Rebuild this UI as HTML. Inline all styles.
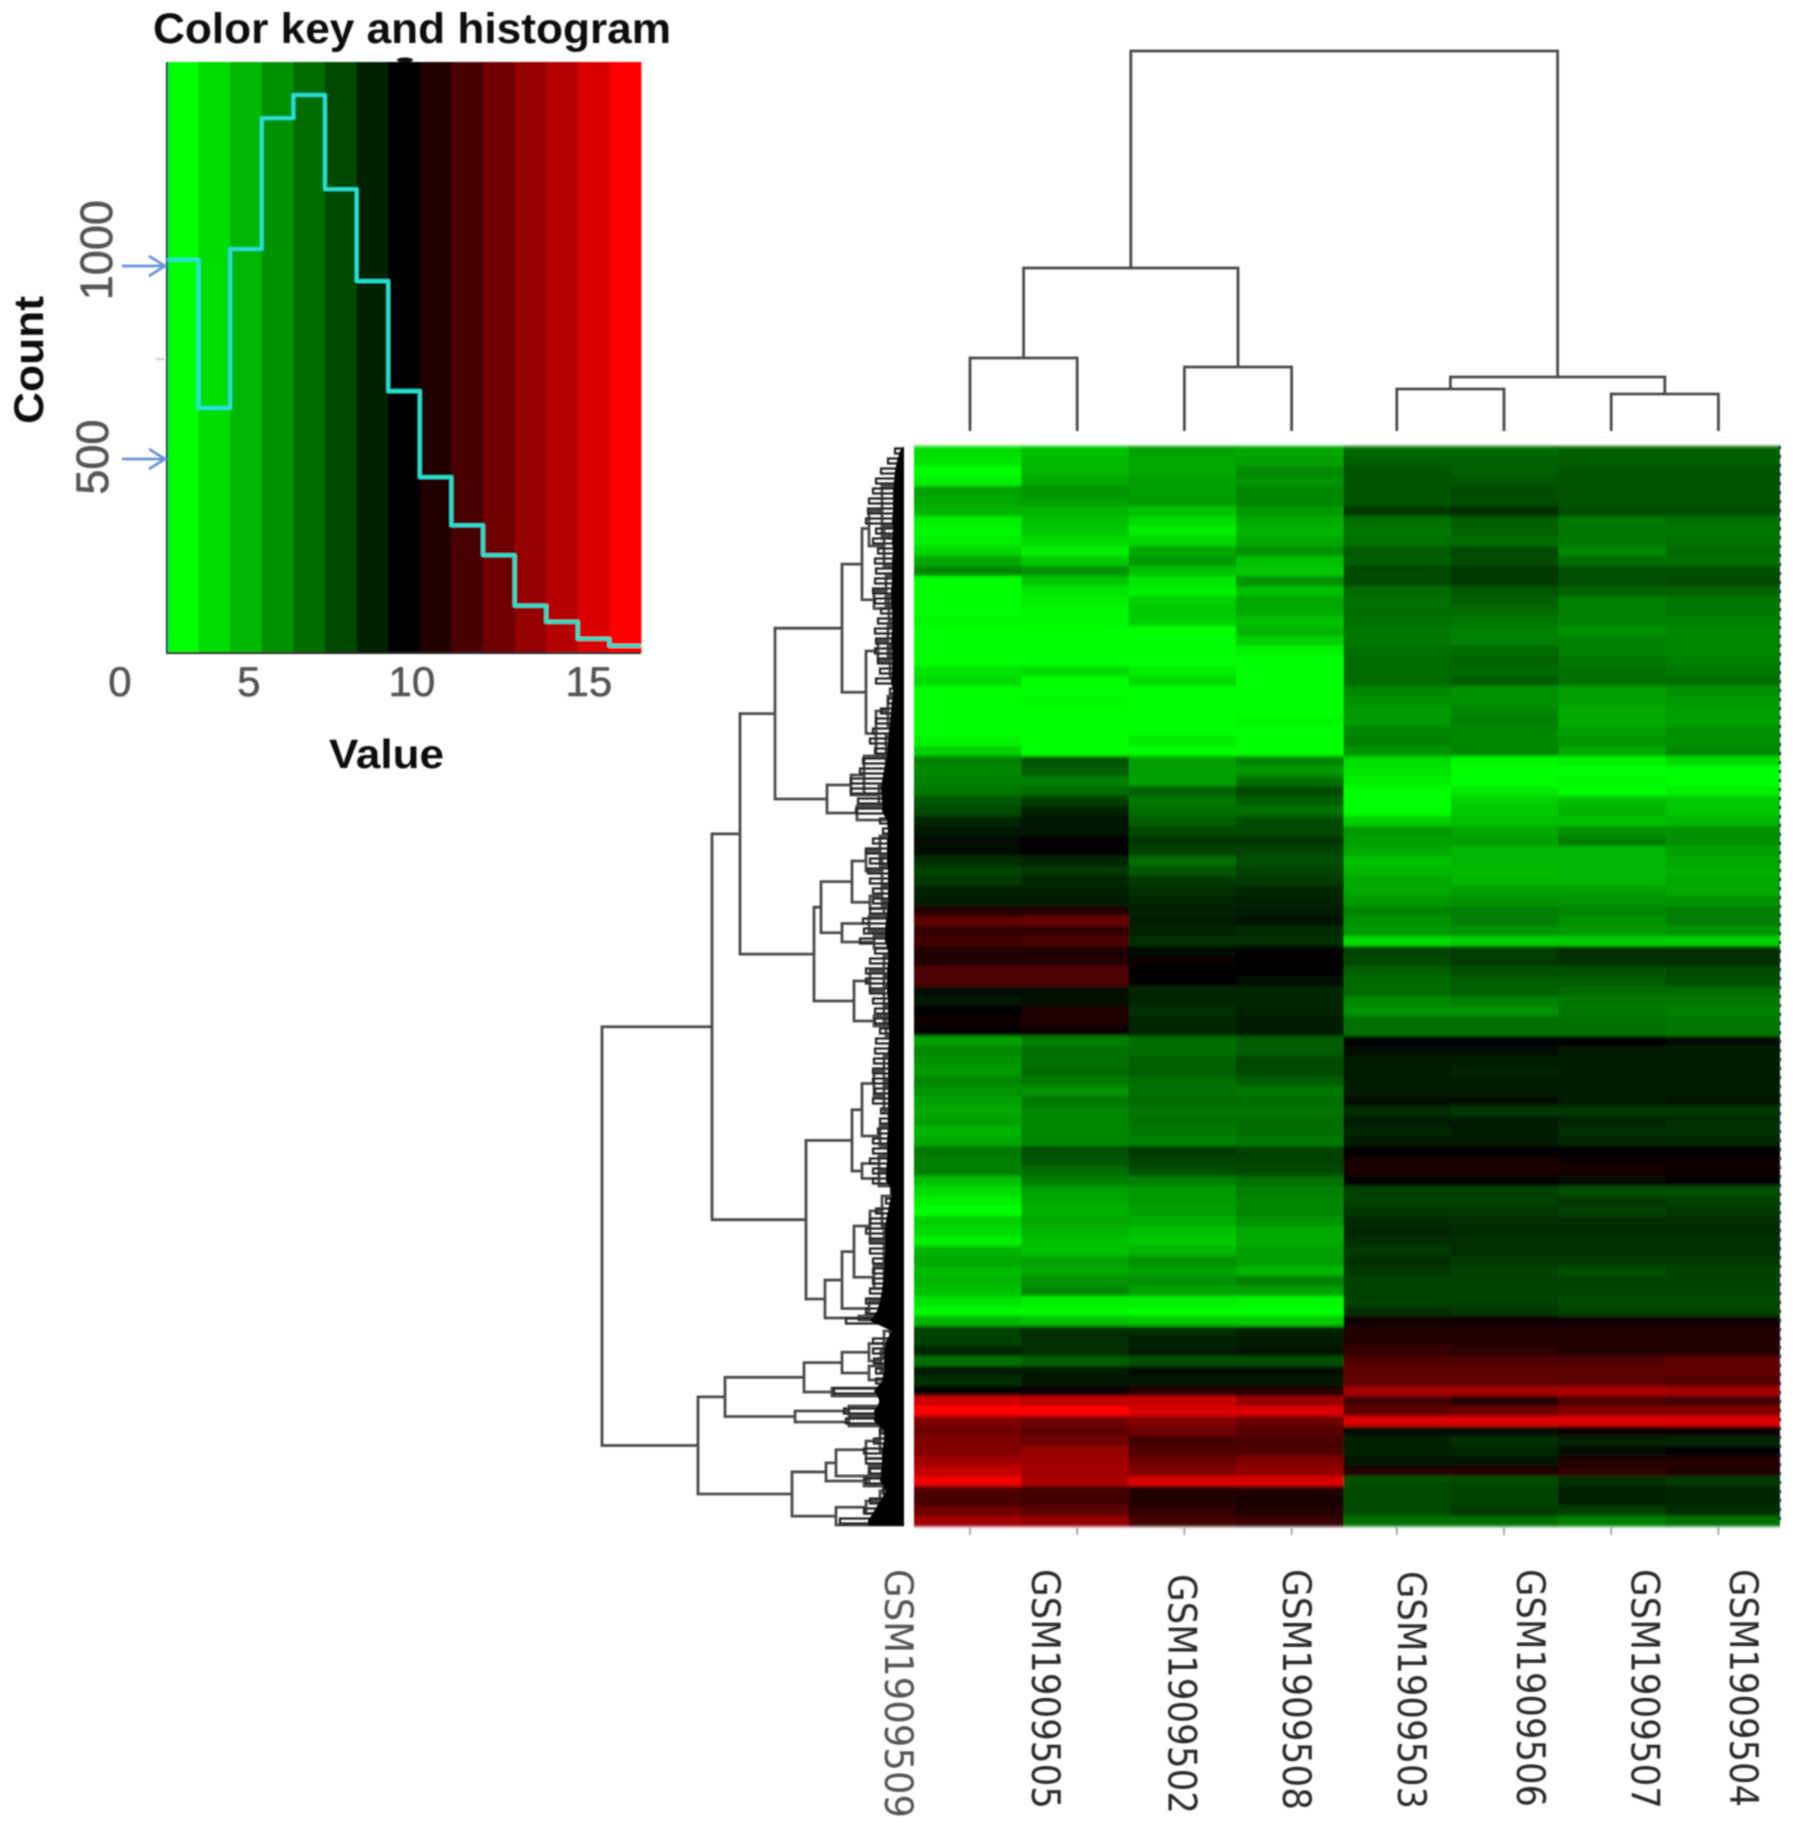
<!DOCTYPE html>
<html lang="en">
<head>
<meta charset="utf-8">
<title>Heatmap with color key and dendrograms</title>
<style>
  html, body { margin: 0; padding: 0; background: #fff; }
  body { width: 1795px; height: 1833px; overflow: hidden; }
  svg { display: block; }
  text { font-family: "Liberation Sans", sans-serif; }
</style>
</head>
<body>
<svg id="chart" xmlns="http://www.w3.org/2000/svg" width="1795" height="1833" viewBox="0 0 1795 1833">
  <defs>
    <filter id="soft" filterUnits="userSpaceOnUse" x="0" y="0" width="1795" height="1833"><feGaussianBlur stdDeviation="0.8"/></filter>
    <filter id="softHeat" filterUnits="userSpaceOnUse" x="0" y="0" width="1795" height="1833"><feGaussianBlur stdDeviation="0.7 1.6"/></filter>
  </defs>
  <rect width="1795" height="1833" fill="#fff"/>
  <g id="keyLayer" filter="url(#soft)"></g>
  <g id="textLayer" filter="url(#soft)">
    <text x="153" y="43" font-size="43" font-weight="bold" textLength="518" lengthAdjust="spacingAndGlyphs" fill="#111">Color key and histogram</text>
    <text transform="translate(43,424) rotate(-90)" font-size="42" font-weight="bold" textLength="128" lengthAdjust="spacingAndGlyphs" fill="#111">Count</text>
    <text x="329" y="768" font-size="41" font-weight="bold" textLength="115" lengthAdjust="spacingAndGlyphs" fill="#111">Value</text>
  </g>
  <g id="heatLayer" filter="url(#softHeat)"></g>
  <g id="colTreeLayer" filter="url(#soft)"></g>
  <g id="rowTreeLayer" filter="url(#soft)"></g>
  <g id="sampleLayer" filter="url(#soft)"></g>
</svg>
<script>
// ---------- Color key and histogram data ----------
const keyLevels = [0,1,2,3,4,5,6,7,8,9,10,11,12,13,14];
const histCounts = [1016,632,1044,1383,1443,1199,961,676,453,328,251,120,78,34,16];
const keyTickLabels = ['0','5','10','15'];
const keyTickBins = [-1.49,2.59,7.75,13.35];
const countArrows = [500,1000];
const countLabels = ['500','1000'];
const countLabelAt = [505,1041];

// ---------- Samples ----------
const sampleLabels = ['GSM1909509','GSM1909505','GSM1909502','GSM1909508','GSM1909503','GSM1909506','GSM1909507','GSM1909504'];
const sampleLabelPos = [-0.66,0.71,1.98,3.05,4.14,5.25,6.32,7.24];
const sampleLabelStart = [0,0,5,0,2,0,0,0];
const sampleLabelLength = [249,240,240,241,238,238,240,238];

// ---------- Column dendrogram: [height, child, child]; numbers are leaves ----------
const colTree = [38.0,[16.3,[7.3,0,1],[6.4,2,3]],[5.4,[4.2,4,5],[3.7,6,7]]];

// ---------- Row dendrogram: [height, top, bottom]; numbers are row positions ----------
const rowTree = [30.2,
  [19.2,
    [16.4,
      [12.9,
        [6.2,
          [4.2,[3.5,[2.2,4,9],[2.0,8,12]],[3,[1.8,13,16],[1.5,15,17.5]]],
          [3.8,[2.6,[1.6,18,21],[1.4,20,23]],[2.8,[1.6,25,28],[1.8,29,33]]]],
        [7.7,[5.3,[4,31,34.8],[2.5,34,35.8]],[4.7,36,37.4]]],
      [9,
        [8.3,
          [5.2,[3.8,[2.4,39,42],[2.2,41,44]],[3.4,[2.2,44,46],[2,45.5,47]]],
          [6.2,[3.5,47,48.5],[3,49,50.2]]],
        [5,[3.4,[2,51,54],[2,53,56]],[3,[2,56,58],[1.8,57,59]]]]],
    [9.8,
      [5.2,
        [4.2,[3,[2,61,64],[2,63.5,66.5]],[2.4,[1.5,67,69],[1.5,69,71]]],
        [4.2,[2.5,71,72.5],[2.5,72.5,74]]],
      [7.9,
        [6.2,
          [5,[3.4,[2.2,75,78],[2,78,81]],[3,[2,81,83],[1.8,83,85.5]]],
          [3.5,85.5,87]],
        [4.5,87,87.4]]]],
  [20.6,
    [17.9,
      [10,
        [6.2,[3.5,[2,88.5,91],[2.3,90.5,92.5]],[3.5,92,93.4]],
        [7.2,94.2,95]],
      [10.9,[5.5,96,97],[5.5,97.2,98]]],
    [11.2,
      [7.8,
        [6.8,[3.8,[2.4,98.5,100.5],[2,100.5,102]],[3.5,102,104]],
        [4,103,104]],
      [6.8,[3.8,[2.4,104.5,106.5],[2,106,107.5]],107.9]]]];

// Per-row extent of the fine leaf branches and of the solid leaf mass (same unit as tree height)
const rowTwigDepth = [0.9,1.6,2.3,2.8,3.1,3.5,3.6,3.8,2.8,3.1,2.6,2.9,2.8,2.9,3.1,2.9,2.3,2.6,2.9,2.8,2.9,2.6,2.4,2.8,1.4,1.6,2.3,2.8,3.1,3.4,2.9,4.1,4.4,5.3,5.3,4.6,4.8,2.4,2.1,3.1,3.8,3.4,3.6,3.4,3.1,3.1,3.4,4.1,4,4.4,2.9,3.4,3.8,3.8,3.4,3.1,2.9,2.9,2.4,2.8,2.9,3,3.1,3.1,2.9,3.1,2.3,2.4,2.6,3.1,3.1,3.4,3.1,3.1,1.3,1.8,2.8,3.4,3.8,3.4,3.4,3.1,3.1,3.1,3.4,3.8,3.8,5.8,1.4,3.1,3.1,3,2.8,2.8,7,2.4,6,5.8,2.4,3,4,3.8,3.4,3.8,2.1,3.4,4,6.4];
const rowMassDepth = [0.4,0.7,0.9,1,1.1,1.1,1.1,1.2,1.1,1.2,1.1,1.2,1.2,1.2,1.3,1.3,1.2,1.2,1.2,1.3,1.2,1.2,1.2,1.3,1.1,1.2,1.3,1.4,1.5,1.6,1.7,1.8,2,2.2,2.3,2.2,2.2,1.7,1.6,1.7,1.7,1.7,1.6,1.6,1.6,1.6,1.7,1.8,1.9,1.9,1.6,1.6,1.7,1.7,1.7,1.6,1.6,1.6,1.5,1.5,1.6,1.6,1.6,1.6,1.6,1.6,1.6,1.6,1.6,1.7,1.7,1.7,1.8,1.8,1.2,1.4,1.6,1.8,1.9,1.9,1.9,2,2,2.1,2.2,2.4,2.7,3.4,1.2,1.8,2,2,2,2.2,3,2.4,3,3,2,2,2.2,2.2,2.3,2.4,1.8,2.4,3,3.6];

// ---------- Heatmap values: one row per gene cluster, one value per sample (0 green, 7 black, 14 red) ----------
const heatRows = [
[1,1.7,2.6,2.4,4.1,4.1,4.3,4.3],
[0.8,1.9,2.4,2.6,4.4,4.4,4.5,4.5],
[0,2,2.4,3.2,4.6,4.4,4.6,4.6],
[0.4,2.3,2.6,3,4.6,4.6,4.6,4.6],
[2.6,3,2.6,3.3,4.6,5,4.6,4.6],
[2.4,2.6,2.8,3.3,4.6,4.9,4.6,4.6],
[2,2,1.7,2.8,5.5,5.7,4.9,4.9],
[0.4,1.7,1,2.3,4,4.5,3.7,3.9],
[0.2,1.5,0.4,2,3.7,4.3,3.7,3.7],
[0.4,1,1.1,2.4,3.9,4,3.7,3.9],
[1.1,0.4,2.4,3,4.5,4.9,3.3,4.1],
[2.4,1.5,2.8,1.7,4.5,4.9,4,3.9],
[3.3,3,1.7,1.5,5,5.5,4.8,4.8],
[0,1.5,0.7,3,5,5.5,4.8,5],
[0,0.7,0.4,1.7,4.1,4.6,4.3,4.3],
[0,0.4,1.3,2.4,3.9,4.4,3.5,3.7],
[0,0.2,1.5,2.3,4,4.1,3.5,3.7],
[0.2,0.2,1.3,1.7,3.9,3.7,3.5,3.5],
[0,0,0,2.1,3.7,3.5,3,3.3],
[0,0,0,1.3,3.7,3.5,3.5,3.3],
[0,0,0,0.3,3.9,4.1,3.5,3.3],
[0,0,0,0,4.1,4.3,3.7,3.5],
[0.7,1,0.4,0,4.1,4.1,3.9,3.7],
[1,0,1,0,4.1,4.5,3.9,4],
[0,0,0,0,3.3,3,2.6,3],
[0,0.2,0,0,3,3,2.6,2.8],
[0,0,0,0,2.8,3.3,2.4,2.6],
[0,0,0,0.2,2.8,3.5,2.4,2.6],
[0,0,0,0,3.3,3.3,2.6,3],
[0.3,0,0.5,0,3.5,3.3,3,3],
[1.3,0,0,0,3,3.3,2.4,3.3],
[3.5,4.6,2.6,3.3,1,0.2,0.4,1],
[3.3,4.4,2.6,2.8,0.7,0,0,0],
[3.5,3.5,2.6,3.9,0.4,0,0.2,0],
[3.7,4,4.4,4.9,0,0.6,0,0.4],
[4.6,5.3,3.7,4.4,0,1.3,1.7,1.5],
[5,6.1,4,3.9,0,1.5,2.1,1.5],
[5.9,6.5,4.4,4.9,1.3,1.7,1.7,2],
[6.5,6.5,5,5,2.8,2.4,3,3],
[6.8,7,5.5,5.5,2.6,2.6,3.5,3],
[6.8,7,5.2,5.2,2.4,2,2,2.6],
[5.7,5.9,4,4.8,1.7,2,2,2.4],
[5.2,5.5,4.6,5.2,2,1.9,2,2.2],
[5.5,5.9,5.5,5.5,2.4,2,2,2.4],
[6.1,6.1,5.7,5.9,2.4,2.6,2.6,2.4],
[6.3,6.3,5.9,6.1,2.8,3,3,3],
[8,8,6.1,6.3,3.3,3.5,3.3,3.5],
[9.6,9.8,6.2,6.4,3,3.5,3,3.5],
[8.4,8.4,6,5.8,2.8,3,2.8,3],
[8.8,9.2,5.7,5.7,1,1.3,1.3,1.3],
[8,7.8,6.8,7,5.2,5.4,5.7,5.7],
[7.9,7.9,7.2,7,5,5.4,5.7,5.7],
[9.2,9.2,7,7,4.4,4.8,4.8,5],
[9.2,9.2,7,6.8,4.1,4.5,4.5,4.8],
[6.6,6.6,5.9,5.9,4.1,4.4,4.1,4.1],
[6.4,6.8,5.9,5.9,3.3,3.5,3.7,3.7],
[7,7.8,5.7,6.1,3,3,3.7,3.5],
[7.3,7.8,5.9,6.3,3.9,3.9,3.9,3.7],
[7,7.3,5.9,6.3,3.9,3.9,3.9,3.7],
[2.6,3.5,4,4.5,7,7,7,6.6],
[3.3,3.9,4,4.5,6.6,6.6,6.3,6.3],
[3,3.9,4.4,5,6.3,6.3,6.3,6.3],
[2.8,4.1,4.4,5,6.3,6.1,6.3,6.3],
[3.3,3.7,4,4.5,6.3,6.3,6.3,6.3],
[3,3,3.9,3.7,6.3,6.3,6.3,6.3],
[2.6,3.7,4,4,6.8,6.8,6.3,6.4],
[2.4,3.3,3.8,3.8,5.7,5.5,5.5,5.5],
[2.6,3.3,3.9,4,6.3,6.3,5.9,5.7],
[2,3.3,3.7,4,5.9,6.3,5.7,5.7],
[2.4,3.3,3.5,3.7,6.3,6.3,5.9,5.9],
[3.7,4.8,5.5,5.2,7,7,7,7],
[3.5,4.6,5.2,5.2,7.6,7.6,7.4,7.3],
[3.5,4,4.8,5,7.8,7.8,7.6,7.2],
[1.7,3.5,3.5,3.9,7,7,6.8,7],
[1,2.6,2.8,3.5,5.2,5.2,4.8,4.8],
[0.4,2.4,2.8,3.3,5.2,5.2,5.5,5.2],
[0,2.1,2.6,3.3,5.5,5.5,5.2,5.5],
[1.3,2.4,2.3,3,5.8,5.7,5.7,5.7],
[1,2,1.7,2.4,5.9,5.8,5.8,5.8],
[0.4,1.7,1.5,2.3,5.7,5.7,5.7,5.7],
[2,1.7,2,2.6,5.4,5.7,5.7,5.7],
[2.4,2.6,3,2.6,5.7,5.5,5.5,5.5],
[1.9,2.4,2.6,2,5.5,5.2,4.8,5.2],
[2,3,3,3.5,5.2,5.2,5.2,5.2],
[1.7,3.3,2.6,2.6,5.2,5.2,5.2,5.2],
[0.8,0.4,0.4,0.2,5.2,5.2,5,5],
[0.2,0.2,0,0,5.7,5.5,5.2,5.2],
[2,1.7,1.5,1.5,7.4,7.4,7.4,7.4],
[5.2,5.7,5.7,6.1,7.9,7.9,7.9,7.9],
[5.2,5.7,6.1,6.3,8,7.9,7.9,7.9],
[5.9,5.7,6.3,6.4,8.5,8.3,8,7.9],
[3.9,4.4,4.8,4.8,9.2,9.2,9.2,9.6],
[6.3,6.3,6.8,6.8,9.6,9.6,9.6,9.6],
[5.7,6.5,6.5,6.5,9.6,9.6,9.4,9.2],
[7,7.2,7.9,7.9,11.4,11.4,11.7,11.4],
[12.7,12.3,12.5,11.2,8.8,7.9,9.2,8.8],
[14,14,13,13,9.6,9.9,10.5,10.5],
[10.5,10,10.7,10,13.1,13.1,13.1,13.1],
[10,9.6,10,9.4,6.6,6.6,7.4,7.4],
[10.5,10,8.8,9,6.1,5.7,6.1,5.9],
[10.5,11,9.2,9.2,6.1,5.9,6.8,7],
[11.4,11.4,10,10.5,6.5,6.5,7.9,7.9],
[12.3,11.4,10.5,11,8,7.9,8.3,8],
[13.6,11.8,13,13,4.8,5,5.7,5.5],
[9.2,8.8,7.9,7.9,5,5.2,6.1,5.9],
[9,8.8,7.9,7.6,5,5.2,6.1,5.9],
[10,9.6,8.3,8,5,5.4,5.2,5.7],
[11.4,11,8.8,8.5,3.9,3.9,3.5,3.9]
];

// ---------- Scales ----------
const keyX = b => 167 + b * 31.6;
const keyTop = 62, keyBottom = 653;
const countY = c => 652 - c * 0.386;
const heatLeft = 914, heatRight = 1780, heatColWidth = 107.4;
const heatX = c => heatLeft + c * heatColWidth;
const heatY = r => 446 + r * 10;
const leafX = i => 970 + i * 107.2 - (i >= 3.5 ? 2 : 0);
const colHeightY = h => 431 - h * 10;
const spineX = 904;
const rowHeightX = h => spineX - h * 10;
const levelColor = v => {
  const g = v < 7 ? Math.round(255 * (7 - v) / 7) : 0;
  const r = v > 7 ? Math.round(255 * (v - 7) / 7) : 0;
  return 'rgb(' + r + ',' + g + ',0)';
};

const NS = 'http://www.w3.org/2000/svg';
function make(tag, attrs, parent, txt) {
  const el = document.createElementNS(NS, tag);
  for (const k in attrs) el.setAttribute(k, attrs[k]);
  if (txt !== undefined) el.textContent = txt;
  parent.appendChild(el);
  return el;
}
const keyLayer = document.getElementById('keyLayer');
const textLayer = document.getElementById('textLayer');
const heatLayer = document.getElementById('heatLayer');
const colLayer = document.getElementById('colTreeLayer');
const rowLayer = document.getElementById('rowTreeLayer');
const sampleLayer = document.getElementById('sampleLayer');

// ---------- Color key bands ----------
keyLevels.forEach((lvl, i) => {
  const el = make('rect', {x: keyX(i), y: keyTop, width: 32, height: keyBottom - keyTop, fill: levelColor(lvl)}, keyLayer);
  
  
});
const keyLeftEdge = make('line', {x1: 167, x2: 167, y1: keyTop, y2: keyBottom + 1, stroke: '#12206a', 'stroke-width': 2}, keyLayer);


const keyBottomEdge = make('line', {x1: 167, x2: keyX(15), y1: keyBottom, y2: keyBottom, stroke: '#222', 'stroke-width': 2}, keyLayer);


const keyBump = make('ellipse', {cx: 405, cy: 60, rx: 8, ry: 2.5, fill: '#111'}, keyLayer);


const minorTick = make('line', {x1: 156, x2: 165, y1: 359, y2: 359, stroke: '#ccc', 'stroke-width': 2}, keyLayer);



// ---------- Histogram ----------
let histD = 'M' + keyX(0) + ' ' + countY(histCounts[0]);
histCounts.forEach((c, i) => {
  histD += ' L' + keyX(i) + ' ' + countY(c) + ' L' + keyX(i + 1) + ' ' + countY(c);
});
const histLine = make('path', {d: histD, fill: 'none', stroke: '#2ae0d0', 'stroke-width': 3.8, 'stroke-linejoin': 'round'}, keyLayer);



// ---------- Count arrows and labels ----------
countArrows.forEach(c => {
  const y = countY(c);
  const arrow = make('path', {d: 'M122 ' + y + ' H165 M149 ' + (y - 10) + ' L165 ' + y + ' L149 ' + (y + 10), fill: 'none', stroke: '#6c93d6', 'stroke-width': 2.8}, keyLayer);
  
  
});
countLabels.forEach((lab, i) => {
  const y = countY(countLabelAt[i]);
  const t = make('text', {transform: 'translate(' + (i === 0 ? 108 : 112) + ',' + y + ') rotate(-90)', 'text-anchor': 'middle', 'font-size': 45, fill: '#555', stroke: '#555', 'stroke-width': 0.6}, textLayer, lab);
  
  
});
keyTickLabels.forEach((lab, i) => {
  const t = make('text', {x: keyX(keyTickBins[i]), y: 696, 'text-anchor': 'middle', 'font-size': 42, fill: '#555', stroke: '#555', 'stroke-width': 0.6}, textLayer, lab);
  
  
});

// ---------- Heatmap ----------
heatRows.forEach((row, r) => {
  row.forEach((v, c) => {
    const w = c === row.length - 1 ? heatRight - heatX(c) : heatColWidth + 0.5;
    const cell = make('rect', {x: heatX(c), y: heatY(r), width: w, height: 10.5, fill: levelColor(v)}, heatLayer);
    
    
  });
});
const rightEdge = make('line', {x1: heatRight, x2: heatRight, y1: heatY(0), y2: heatY(108), stroke: '#1b2a55', 'stroke-width': 2, 'stroke-dasharray': '3 6'}, sampleLayer);



// ---------- Dendrogram drawing ----------
function drawCol(node) {
  if (typeof node === 'number') return {x: leafX(node), h: 0};
  const a = drawCol(node[1]);
  const b = drawCol(node[2]);
  const y = colHeightY(node[0]);
  const d = 'M' + a.x + ' ' + colHeightY(a.h) + ' V' + y + ' H' + b.x + ' V' + colHeightY(b.h);
  const p = make('path', {d: d, fill: 'none', stroke: '#4a4a4a', 'stroke-width': 2.8}, colLayer);
  
  
  return {x: (a.x + b.x) / 2, h: node[0]};
}
drawCol(colTree);

function drawRow(node) {
  if (typeof node === 'number') return {y: heatY(node), h: 0};
  const a = drawRow(node[1]);
  const b = drawRow(node[2]);
  const x = rowHeightX(node[0]);
  const d = 'M' + rowHeightX(a.h) + ' ' + a.y + ' H' + x + ' V' + b.y + ' H' + rowHeightX(b.h);
  const p = make('path', {d: d, fill: 'none', stroke: '#4a4a4a', 'stroke-width': 2.8}, rowLayer);
  
  
  return {y: (a.y + b.y) / 2, h: node[0]};
}
drawRow(rowTree);

// Fine leaf branches: a small bracket per row
rowTwigDepth.forEach((depth, r) => {
  const x = rowHeightX(depth);
  const y1 = heatY(r) + 2.5;
  const y2 = heatY(r) + 7.5;
  const d = 'M' + spineX + ' ' + y1 + ' H' + x + ' V' + y2 + ' H' + spineX;
  const twig = make('path', {d: d, fill: 'none', stroke: '#222', 'stroke-width': 2.2}, rowLayer);
  
  
});

// Solid black leaf mass against the heatmap
let massPts = spineX + ',' + heatY(0);
rowMassDepth.forEach((depth, r) => {
  massPts += ' ' + rowHeightX(depth) + ',' + (heatY(r) + 5);
});
massPts += ' ' + rowHeightX(rowMassDepth[rowMassDepth.length - 1]) + ',' + heatY(108) + ' ' + spineX + ',' + heatY(108);
const mass = make('polygon', {points: massPts, fill: '#000'}, rowLayer);



// ---------- Sample ticks and labels ----------
sampleLabels.forEach((lab, i) => {
  const tick = make('line', {x1: leafX(i), x2: leafX(i), y1: heatY(108) + 1, y2: heatY(108) + 9, stroke: '#999', 'stroke-width': 1.6}, sampleLayer);
  
  
  const baseX = leafX(sampleLabelPos[i]) - 14;
  const t = make('text', {
    transform: 'translate(' + baseX + ',' + (1569 + sampleLabelStart[i]) + ') rotate(90)',
    'font-size': 39,
    textLength: sampleLabelLength[i],
    lengthAdjust: 'spacingAndGlyphs',
    fill: i === 0 ? '#555' : '#2a2a2a',
    style: 'font-family:"DejaVu Sans",sans-serif'
  }, sampleLayer, lab);
  
  
});
</script>
</body>
</html>
